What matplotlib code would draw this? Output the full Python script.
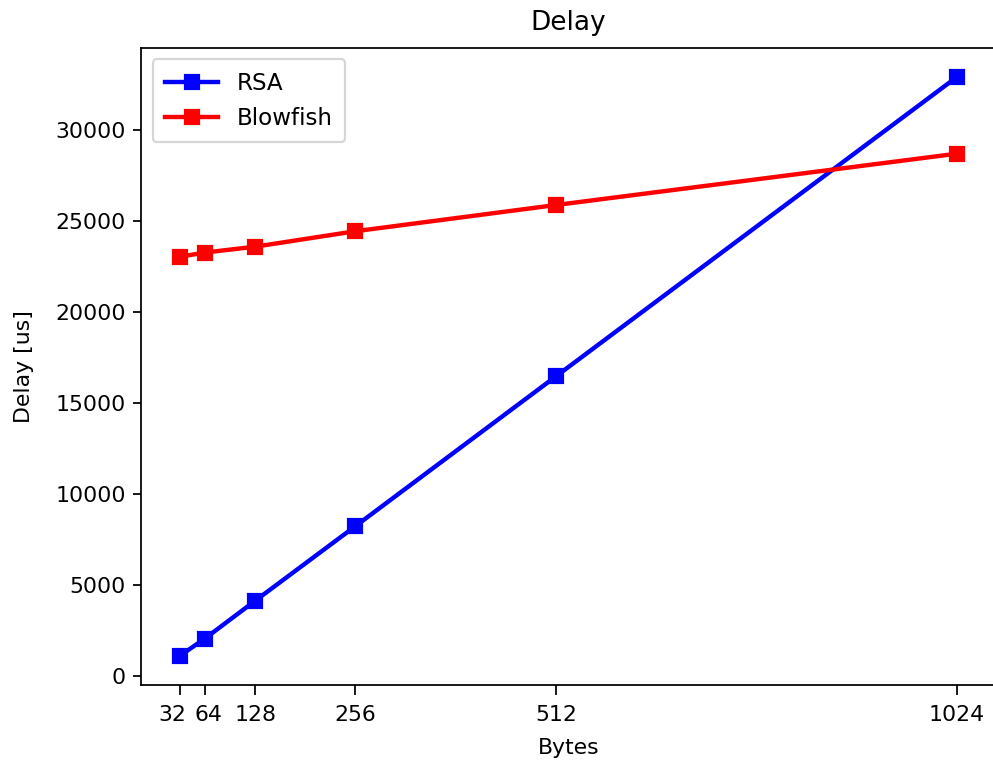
import matplotlib
matplotlib.use("Agg")
import matplotlib.pyplot as plt
from matplotlib.transforms import ScaledTranslation

sizes = [32, 64, 128, 256, 512, 1024]
size_labels = ['32', '64', '128', '256', '512', '1024']
rsa_delay = [1100, 2050, 4120, 8220, 16450, 32900]
blowfish_delay = [23020, 23250, 23570, 24420, 25860, 28680]

dpi = 158
fig = plt.figure(figsize=(993 / dpi, 760 / dpi), dpi=dpi)
ax = fig.add_subplot(1, 1, 1)
fig.subplots_adjust(left=0.142, right=1.003, top=0.937, bottom=0.099)

ax.plot(sizes, rsa_delay, 's-', color='blue', linewidth=2, markersize=6, label='RSA')
ax.plot(sizes, blowfish_delay, 's-', color='red', linewidth=2, markersize=6, label='Blowfish')

ax.set_xticks(sizes)
ax.set_xticklabels(size_labels)
ax.tick_params(axis='x', length=4.5, pad=4.5)
# nudge the two crowded labels apart
labels = ax.get_xticklabels()
labels[0].set_transform(labels[0].get_transform() + ScaledTranslation(-3.6 / 72, 0, fig.dpi_scale_trans))
labels[1].set_transform(labels[1].get_transform() + ScaledTranslation(1.4 / 72, 0, fig.dpi_scale_trans))

ax.set_title('Delay', pad=8)
ax.set_xlabel('Bytes', labelpad=6)
ax.set_ylabel('Delay [us]', labelpad=9.5)
ax.legend(loc='upper left', fontsize=10.5, handlelength=2.3, borderpad=0.55)

fig.savefig('out.png', dpi=dpi)
